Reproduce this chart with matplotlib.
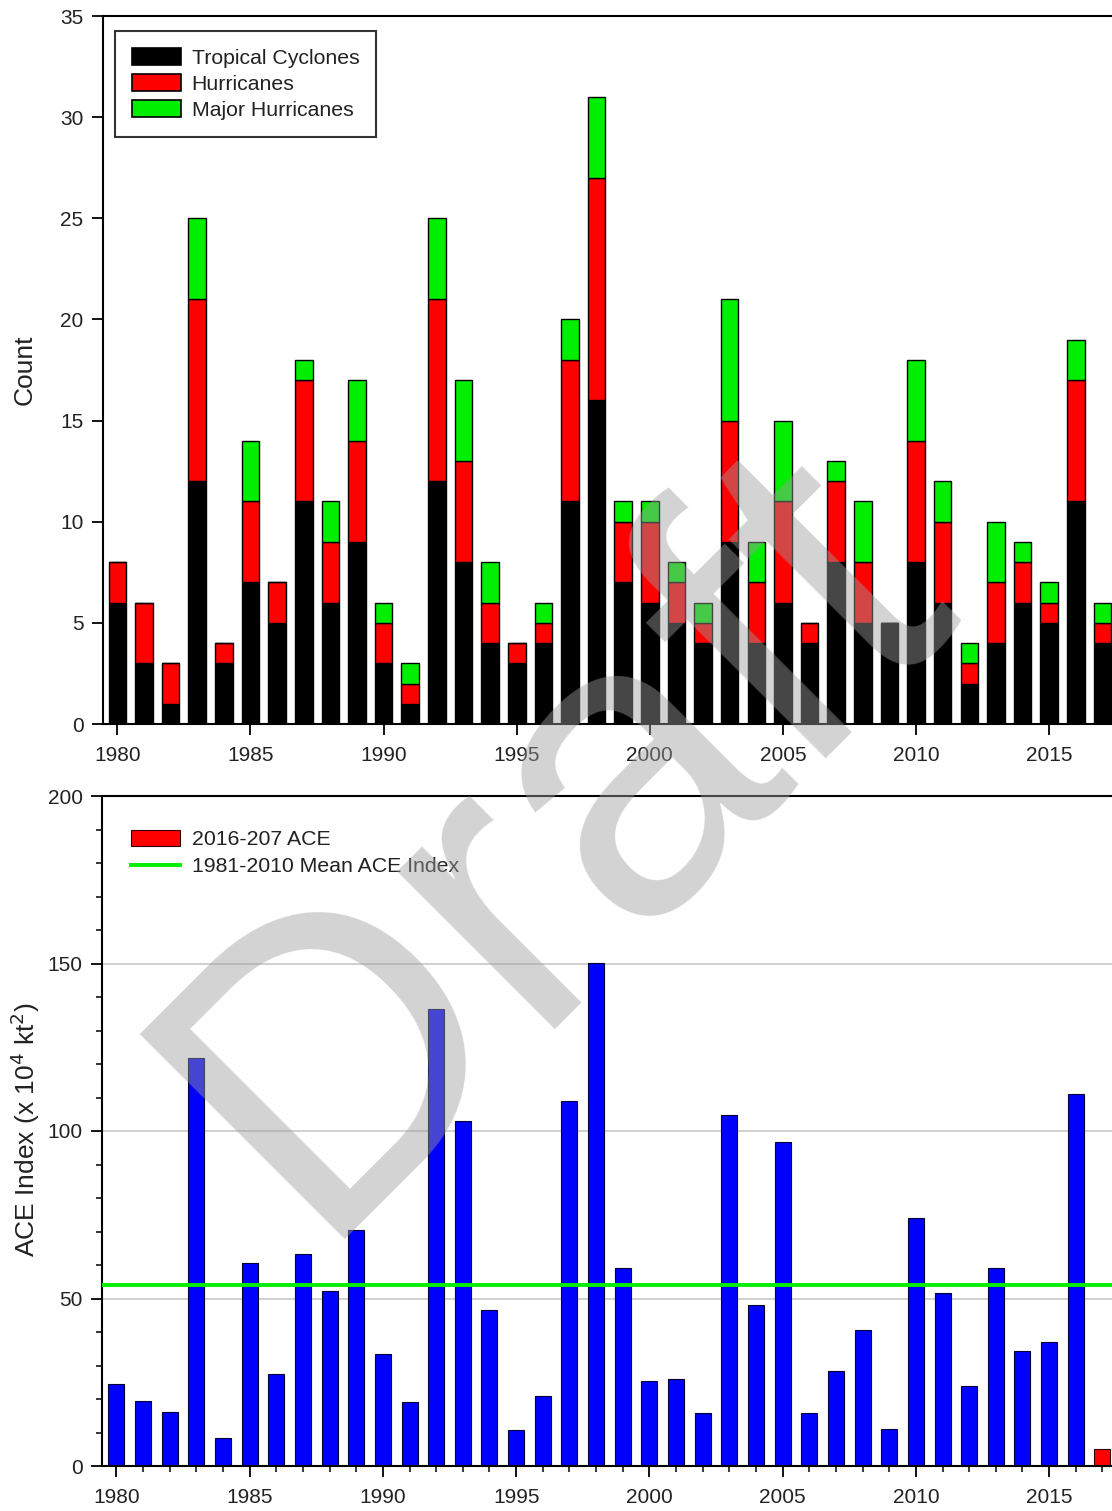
import matplotlib
matplotlib.use("Agg")
import matplotlib.pyplot as plt
import numpy as np
from matplotlib.patches import Patch
from matplotlib.lines import Line2D
from matplotlib.ticker import MultipleLocator

plt.rcParams['font.family'] = ['Liberation Sans', 'DejaVu Sans']

# ---------------- data ----------------
years = list(range(1980, 2018))
tropical_storms = [6, 3, 1, 12, 3, 7, 5, 11, 6, 9, 3, 1, 12, 8, 4, 3, 4, 11, 16, 7,
                   6, 5, 4, 9, 4, 6, 4, 8, 5, 5, 8, 6, 2, 4, 6, 5, 11, 4]
hurricanes = [2, 3, 2, 9, 1, 4, 2, 6, 3, 5, 2, 1, 9, 5, 2, 1, 1, 7, 11, 3,
              4, 2, 1, 6, 3, 5, 1, 4, 3, 0, 6, 4, 1, 3, 2, 1, 6, 1]
major_hurricanes = [0, 0, 0, 4, 0, 3, 0, 1, 2, 3, 1, 1, 4, 4, 2, 0, 1, 2, 4, 1,
                    1, 1, 1, 6, 2, 4, 0, 1, 3, 0, 4, 2, 1, 3, 1, 1, 2, 1]

ace_years = list(range(1980, 2017))
ace_values = [24.5, 19.3, 16.0, 121.7, 8.5, 60.5, 27.4, 63.3, 52.3, 70.3, 33.4, 19.1,
              136.5, 103.0, 46.7, 10.8, 21.0, 109.1, 150.2, 59.2, 25.5, 25.9, 15.9,
              104.8, 48.2, 96.8, 15.8, 28.3, 40.6, 10.9, 73.9, 51.6, 23.8, 59.2,
              34.4, 36.9, 110.9]
current_year = [2017]
current_ace = [5.0]
mean_ace = 53.9

legend_top = ['Tropical Cyclones', 'Hurricanes', 'Major Hurricanes']
legend_bottom = ['2016-207 ACE', '1981-2010 Mean ACE Index']

# ---------------- style ----------------
W, H = 1112, 1511
fig = plt.figure(figsize=(W / 100, H / 100), dpi=100)
FS = 15
LFS = 15.3
TXT = '#222222'
RED = '#ff0000'
GREEN = '#00ee00'
BLUE = '#0000ff'
XLIM = (1979.46, 2017.36)

def px_axes(left, top, right, bottom):
    return fig.add_axes([left / W, 1 - bottom / H, (right - left) / W, (bottom - top) / H])

def style_axes(ax):
    for s in ['left', 'bottom', 'top']:
        ax.spines[s].set_linewidth(1.5)
        ax.spines[s].set_color('black')
    ax.spines['right'].set_visible(False)
    ax.tick_params(axis='both', which='major', direction='out', length=8, width=1.3,
                   labelsize=FS, labelcolor=TXT, pad=6)
    ax.tick_params(axis='x', which='major', pad=8)
    ax.tick_params(axis='both', which='minor', direction='out', length=4, width=1.1)
    ax.tick_params(axis='x', which='both', top=False)

# ---------------- top panel ----------------
ax1 = px_axes(103, 16, W, 724)
x = np.array(years)
ts = np.array(tropical_storms)
hu = np.array(hurricanes)
mh = np.array(major_hurricanes)
bw = 0.66
ax1.bar(x, ts, width=bw, color='black', edgecolor='black', linewidth=1.0, zorder=2)
ax1.bar(x, hu, width=bw, bottom=ts, color=RED, edgecolor='black', linewidth=1.0, zorder=2)
ax1.bar(x, mh, width=bw, bottom=ts + hu, color=GREEN, edgecolor='black', linewidth=1.0, zorder=2)
ax1.set_xlim(*XLIM)
ax1.set_ylim(0, 35)
ax1.xaxis.set_major_locator(MultipleLocator(5))
ax1.yaxis.set_major_locator(MultipleLocator(5))
style_axes(ax1)
fig.text(25 / W, 1 - 370 / H, 'Count', rotation=90, ha='center', va='center',
         fontsize=19, color=TXT)

handles1 = [Patch(facecolor=c, edgecolor='black', linewidth=1.2) for c in ['black', RED, GREEN]]
leg1 = ax1.legend(handles1, legend_top, loc='upper left', bbox_to_anchor=(0.012, 0.979),
                  fontsize=LFS, frameon=True, fancybox=False, edgecolor='black',
                  handlelength=2.3, handleheight=0.85, labelspacing=0.3,
                  handletextpad=0.5, borderpad=0.8, borderaxespad=0.0)
leg1.get_frame().set_linewidth(1.5)
for t in leg1.get_texts():
    t.set_color(TXT)

# ---------------- bottom panel ----------------
ax2 = px_axes(102, 796, W, 1466)
ax2.bar(ace_years, ace_values, width=0.6, color=BLUE, edgecolor='#000033', linewidth=0.8, zorder=2)
ax2.bar(current_year, current_ace, width=0.6, color=RED, edgecolor='#330000', linewidth=0.8, zorder=2)
ax2.axhline(mean_ace, color=GREEN, linewidth=2.8, zorder=3)
for gy in [50, 100, 150]:
    ax2.axhline(gy, color='#c8c8c8', linewidth=1.2, zorder=1)
ax2.set_xlim(*XLIM)
ax2.set_ylim(0, 200)
ax2.xaxis.set_major_locator(MultipleLocator(5))
ax2.xaxis.set_minor_locator(MultipleLocator(1))
ax2.yaxis.set_major_locator(MultipleLocator(50))
ax2.yaxis.set_minor_locator(MultipleLocator(10))
style_axes(ax2)
fig.text(25 / W, 1 - 1130 / H, r'ACE Index (x 10$^4$ kt$^2$)', rotation=90, ha='center',
         va='center', fontsize=19, color=TXT)

handles2 = [Patch(facecolor=RED, edgecolor='#330000', linewidth=0.8),
            Line2D([0], [0], color=GREEN, linewidth=2.8)]
leg2 = ax2.legend(handles2, legend_bottom, loc='upper left', bbox_to_anchor=(0.02, 0.962),
                  fontsize=LFS, frameon=False, handlelength=2.3, handleheight=0.8,
                  labelspacing=0.35, handletextpad=0.6, borderaxespad=0.0)
for t in leg2.get_texts():
    t.set_color(TXT)

# ---------------- watermark ----------------
fig.text(556 / W, 1 - 840 / H, 'Draft', fontsize=303, rotation=45, rotation_mode='anchor',
         color='#9d9d9d', alpha=0.45, ha='center', va='center', zorder=100)

fig.savefig('out.png', dpi=100)
